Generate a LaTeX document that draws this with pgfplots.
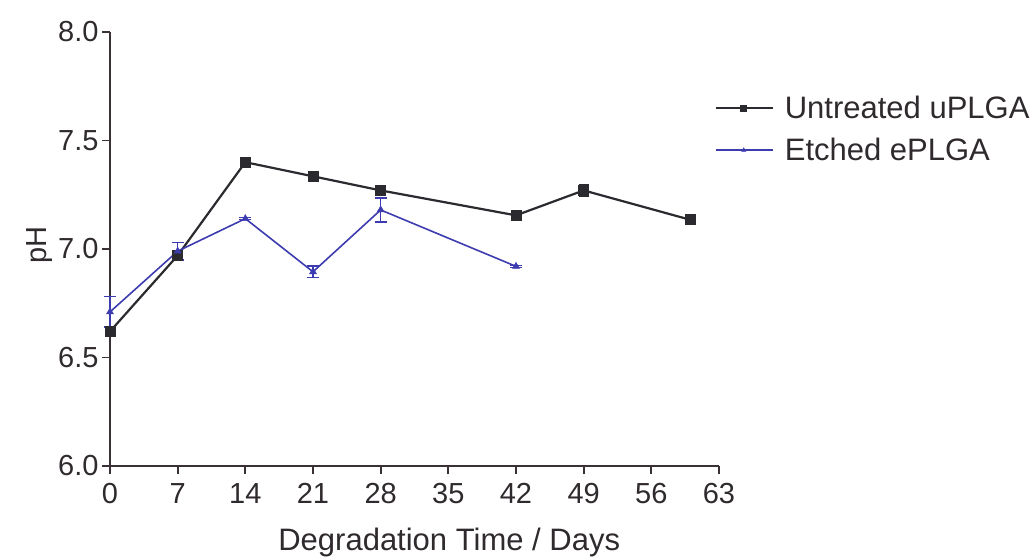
\documentclass[border=0pt]{standalone}
\usepackage{pgfplots}
\pgfplotsset{compat=1.18}
\usepackage{fontspec}
\setmainfont{Liberation Sans}
\definecolor{txt}{HTML}{2E2A2E}
\definecolor{axc}{HTML}{3A3035}
\definecolor{unt}{HTML}{2B2B2F}
\definecolor{etc}{HTML}{3C3CB0}
\begin{document}
\begin{tikzpicture}[x=1pt,y=1pt]
\useasboundingbox (0,0) rectangle (1033,558);
\begin{axis}[
  at={(110pt,92pt)}, anchor=south west,
  scale only axis, width=609pt, height=434pt,
  xmin=0, xmax=63, ymin=6.0, ymax=8.0,
  axis lines=left, axis line style={-, color=axc, line width=1.8pt},
  xtick={0,7,...,63}, ytick={6.0,6.5,...,8.0},
  tick align=outside, major tick length=8pt,
  tick style={color=axc, line width=1.8pt},
  yticklabel style={/pgf/number format/.cd, fixed, fixed zerofill, precision=1},
  xticklabel style={yshift=-6pt},
  /pgf/number format/assume math mode=true,
  ticklabel style={font=\fontsize{29}{34}\selectfont, text=txt},
  xlabel={Degradation Time / Days}, ylabel={pH},
  xlabel style={font=\fontsize{31}{36}\selectfont, text=txt, at={(axis description cs:0.557,0)}, anchor=base, yshift=-84pt},
  ylabel style={font=\fontsize{29}{34}\selectfont, text=txt, at={(axis description cs:-0.115,0.51)}, anchor=center},
  legend style={at={(axis description cs:0.993,0.857)}, anchor=north west, draw=none, fill=none,
     font=\fontsize{31}{38}\selectfont, text=txt, row sep=14pt, inner sep=0pt},
  legend cell align=left,
  legend image code/.code={\draw[#1, line width=1.6pt, mark repeat=2, mark phase=2, every mark/.append style={scale=0.6}] plot coordinates {(0pt,0pt) (28pt,0pt) (57pt,0pt)}; \path (66pt,0pt);},
  clip=false,
]
\addplot[color=unt, line width=2.2pt, mark=square*, mark size=5pt, mark options={solid, line width=0.5pt},
  error bars/.cd, y dir=both, y explicit, error bar style={line width=1.6pt, color=unt},
  error mark options={rotate=90, mark size=5pt, line width=1.6pt}]
  coordinates {
  (0,6.62) +- (0,0.02)
  (7,6.97) +- (0,0.015)
  (14,7.40) +- (0,0.02)
  (21,7.335) +- (0,0.01)
  (28,7.27) +- (0,0.01)
  (42,7.155) +- (0,0.01)
  (49,7.27) +- (0,0.027)
  (60,7.135) +- (0,0.015)
  };
\addlegendentry{Untreated uPLGA}
\addplot[color=etc, line width=1.6pt, mark=triangle*, mark size=4pt, mark options={solid, line width=0.5pt},
  error bars/.cd, y dir=both, y explicit, error bar style={line width=1.4pt, color=etc},
  error mark options={rotate=90, mark size=6pt, line width=1.4pt}]
  coordinates {
  (0,6.71) +- (0,0.07)
  (7,6.99) +- (0,0.04)
  (14,7.14) +- (0,0.005)
  (21,6.895) +- (0,0.027)
  (28,7.18) +- (0,0.055)
  (42,6.92) +- (0,0.005)
  };
\addlegendentry{Etched ePLGA}
\end{axis}
\end{tikzpicture}
\end{document}
